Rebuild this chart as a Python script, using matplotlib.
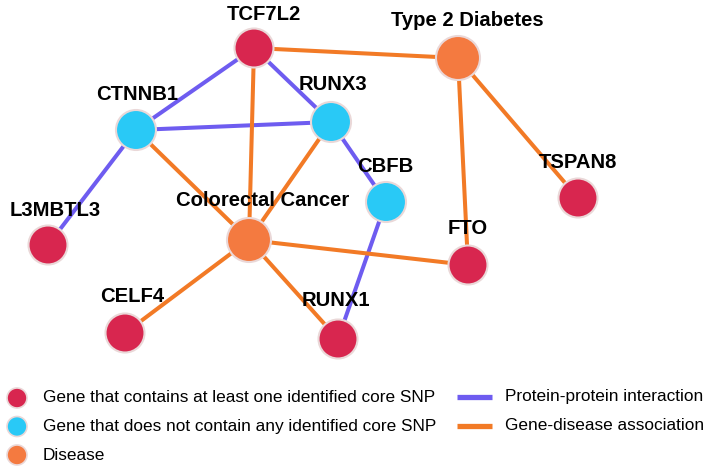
import matplotlib
matplotlib.use('Agg')
import matplotlib.pyplot as plt
from matplotlib.patches import Circle

# node layout (pixel coordinates of the original drawing)
names = ['TCF7L2', 'Type 2 Diabetes', 'CTNNB1', 'RUNX3', 'CBFB', 'TSPAN8',
         'L3MBTL3', 'Colorectal Cancer', 'FTO', 'CELF4', 'RUNX1']
node_x = [254, 458, 136, 331, 386, 578, 48, 249, 468, 125, 338]
node_y = [48, 58, 130, 122, 202, 198, 245, 240, 265, 333, 339]
kinds = ['snp', 'disease', 'nosnp', 'nosnp', 'nosnp', 'snp',
         'snp', 'disease', 'snp', 'snp', 'snp']
label_dx = [10, 9, 1, 2, -1, 0, 7, 14, 0, 7, -2]
label_dy = [-34, -37, -35, -37, -36, -35, -35, -39, -37, -36, -39]

ppi_edges = [('TCF7L2', 'CTNNB1'), ('TCF7L2', 'RUNX3'), ('CTNNB1', 'RUNX3'),
             ('CTNNB1', 'L3MBTL3'), ('RUNX3', 'CBFB'), ('CBFB', 'RUNX1')]
gda_edges = [('TCF7L2', 'Type 2 Diabetes'), ('TCF7L2', 'Colorectal Cancer'),
             ('Type 2 Diabetes', 'FTO'), ('Type 2 Diabetes', 'TSPAN8'),
             ('CTNNB1', 'Colorectal Cancer'), ('RUNX3', 'Colorectal Cancer'),
             ('Colorectal Cancer', 'FTO'), ('Colorectal Cancer', 'CELF4'),
             ('Colorectal Cancer', 'RUNX1')]

node_legend = ['Gene that contains at least one identified core SNP',
               'Gene that does not contain any identified core SNP',
               'Disease']
edge_legend = ['Protein-protein interaction', 'Gene-disease association']

colors = {'snp': '#d8264f', 'nosnp': '#29c9f6', 'disease': '#f47a40'}
radius = {'snp': 19.5, 'nosnp': 20, 'disease': 22}
purple = '#6e5cf0'
orange = '#f27a26'

fig = plt.figure(figsize=(7.12, 4.72), dpi=100)
ax = fig.add_axes([0, 0, 1, 1])
ax.set_xlim(0, 712)
ax.set_ylim(472, 0)
ax.axis('off')

pos = {n: (x, y) for n, x, y in zip(names, node_x, node_y)}

for edges, c in [(ppi_edges, purple), (gda_edges, orange)]:
    for a, b in edges:
        ax.plot([pos[a][0], pos[b][0]], [pos[a][1], pos[b][1]],
                color=c, lw=2.9, zorder=1, solid_capstyle='butt')

for n, x, y, k, dx, dy in zip(names, node_x, node_y, kinds, label_dx, label_dy):
    ax.add_patch(Circle((x, y), radius[k], facecolor=colors[k],
                        edgecolor='#ead8d8', lw=1.5, zorder=2))
    ax.text(x + dx, y + dy, n, ha='center', va='center', fontsize=14.6,
            fontweight='bold', family=['Liberation Sans', 'DejaVu Sans'],
            color='#000000', zorder=3)

# legend
leg_font = ['Liberation Sans', 'DejaVu Sans']
for i, (txt, k) in enumerate(zip(node_legend, ['snp', 'nosnp', 'disease'])):
    y = 398 + i * 28.5
    ax.add_patch(Circle((17, y), 10, facecolor=colors[k],
                        edgecolor='#ead8d8', lw=1.2, zorder=2))
    ax.text(43, y, txt, ha='left', va='center', fontsize=12.4,
            family=leg_font, color='#000000')

for i, (txt, c) in enumerate(zip(edge_legend, [purple, orange])):
    y = 397 + i * 29
    ax.plot([457, 492], [y, y], color=c, lw=3.8, solid_capstyle='butt')
    ax.text(505, y, txt, ha='left', va='center', fontsize=12.4,
            family=leg_font, color='#000000')

fig.savefig('out.png', dpi=100)
